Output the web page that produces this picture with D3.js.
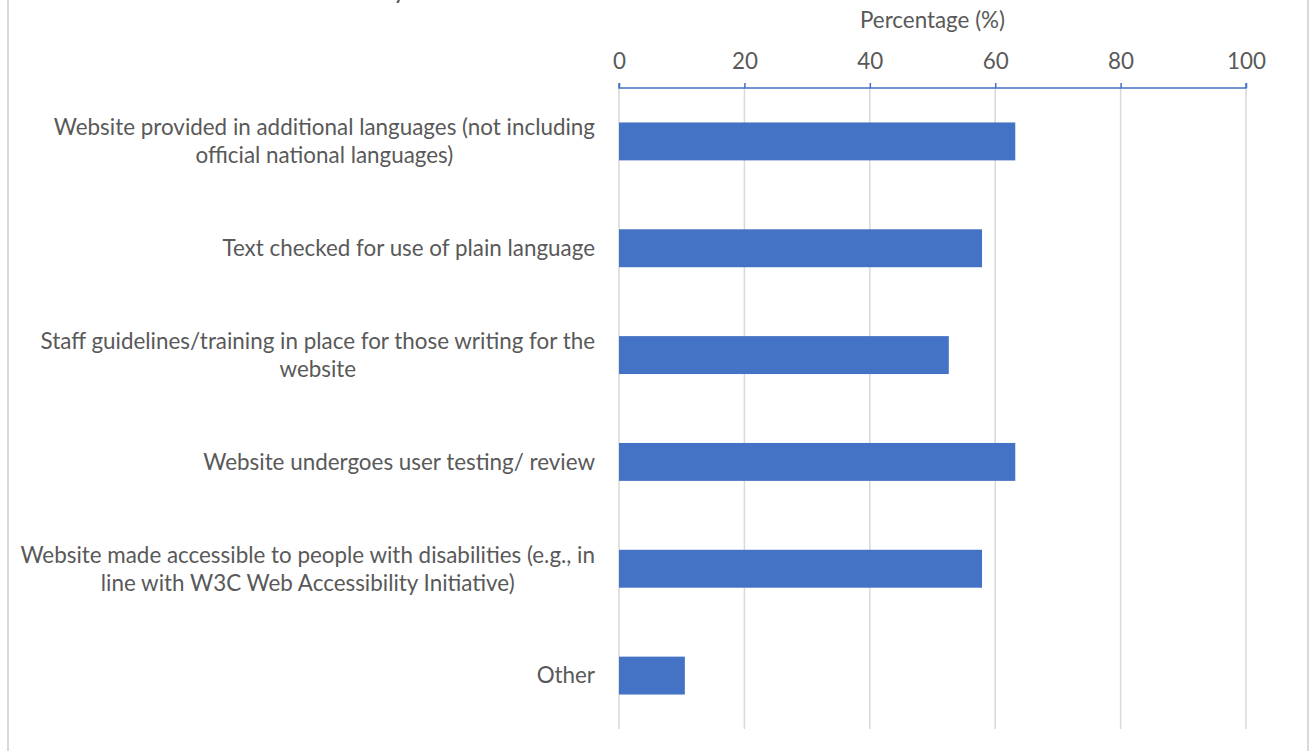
<!DOCTYPE html>
<html>
<head>
<meta charset="utf-8">
<script src="https://cdn.jsdelivr.net/npm/d3@7"></script>
<style>
  html, body { margin: 0; padding: 0; background: #fff; }
  svg { display: block; }
  text { font-family: Lato, "Open Sans", sans-serif; fill: #595959; }
</style>
</head>
<body>
<svg id="chart" width="1310" height="751"></svg>
<script>
// Measures reported by responding offices (share of respondents, %)
const categories = [
  ["Website provided in additional languages (not including", "official national languages)"],
  ["Text checked for use of plain language"],
  ["Staff guidelines/training in place for those writing for the", "website"],
  ["Website undergoes user testing/ review"],
  ["Website made accessible to people with disabilities (e.g., in", "line with W3C Web Accessibility Initiative)"],
  ["Other"]
];
const values = [63.2, 57.9, 52.6, 63.2, 57.9, 10.5];
const tickValues = [0, 20, 40, 60, 80, 100];
const axisTitle = "Percentage (%)";

const W = 1310, H = 751;
const margin = { left: 619, right: 64, top: 88, bottom: 22 };
const fontSize = 22.4;

const svg = d3.select("#chart");

// frame of the chart area
svg.append("line").attr("x1", 8).attr("x2", 8).attr("y1", 0).attr("y2", H)
  .attr("stroke", "#d9d9d9").attr("stroke-width", 2);
svg.append("line").attr("x1", 1308).attr("x2", 1308).attr("y1", 0).attr("y2", H)
  .attr("stroke", "#d9d9d9").attr("stroke-width", 2);

// chart title sits above the visible area; only its descender shows
svg.append("text").attr("x", 393).attr("y", -2)
  .style("font-size", "26px").text("y");

const x = d3.scaleLinear().domain([0, 100]).range([margin.left, W - margin.right]);
const y = d3.scaleBand().domain(d3.range(categories.length))
  .range([margin.top, H - margin.bottom]).paddingInner(0.645).paddingOuter(0.3225);

// vertical gridlines
svg.append("g").selectAll("line").data(tickValues).join("line")
  .attr("x1", d => x(d)).attr("x2", d => x(d))
  .attr("y1", margin.top).attr("y2", H - margin.bottom)
  .attr("stroke", "#d9d9d9").attr("stroke-width", 1.5);

// bars
svg.append("g").selectAll("rect").data(values).join("rect")
  .attr("x", x(0))
  .attr("y", (d, i) => y(i))
  .attr("width", d => x(d) - x(0))
  .attr("height", y.bandwidth())
  .attr("fill", "#4472c4");

// top axis
const axis = d3.axisTop(x).tickValues(tickValues).tickSize(5).tickPadding(14);
const gAxis = svg.append("g").attr("transform", `translate(0,${margin.top})`).call(axis);
gAxis.select(".domain").attr("stroke", "#4472c4").attr("stroke-width", 1.5)
  .attr("d", `M${x(0)},${-5}V0H${x(100)}V${-5}`);
gAxis.selectAll(".tick line").attr("stroke", "#4472c4").attr("stroke-width", 1.5);
gAxis.selectAll(".tick text").style("font-size", fontSize + "px")
  .style("font-family", "Lato, sans-serif").attr("fill", "#595959");

// axis title
svg.append("text").attr("x", (x(0) + x(100)) / 2).attr("y", 28)
  .attr("text-anchor", "middle").style("font-size", fontSize + "px").text(axisTitle);

// category labels: lines centered on each other, block right-aligned to the axis
const labelRight = 595;
const lineH = 28;
const gLab = svg.append("g");
categories.forEach((lines, i) => {
  const cy = y(i) + y.bandwidth() / 2;
  const t = gLab.append("text").attr("text-anchor", "middle").style("font-size", fontSize + "px");
  const spans = lines.map((ln, j) => t.append("tspan")
    .attr("y", cy + (j - (lines.length - 1) / 2) * lineH)
    .attr("dy", "0.35em").text(ln));
  const maxW = d3.max(spans, s => s.node().getComputedTextLength());
  spans.forEach(s => s.attr("x", labelRight - maxW / 2));
});
</script>
</body>
</html>
